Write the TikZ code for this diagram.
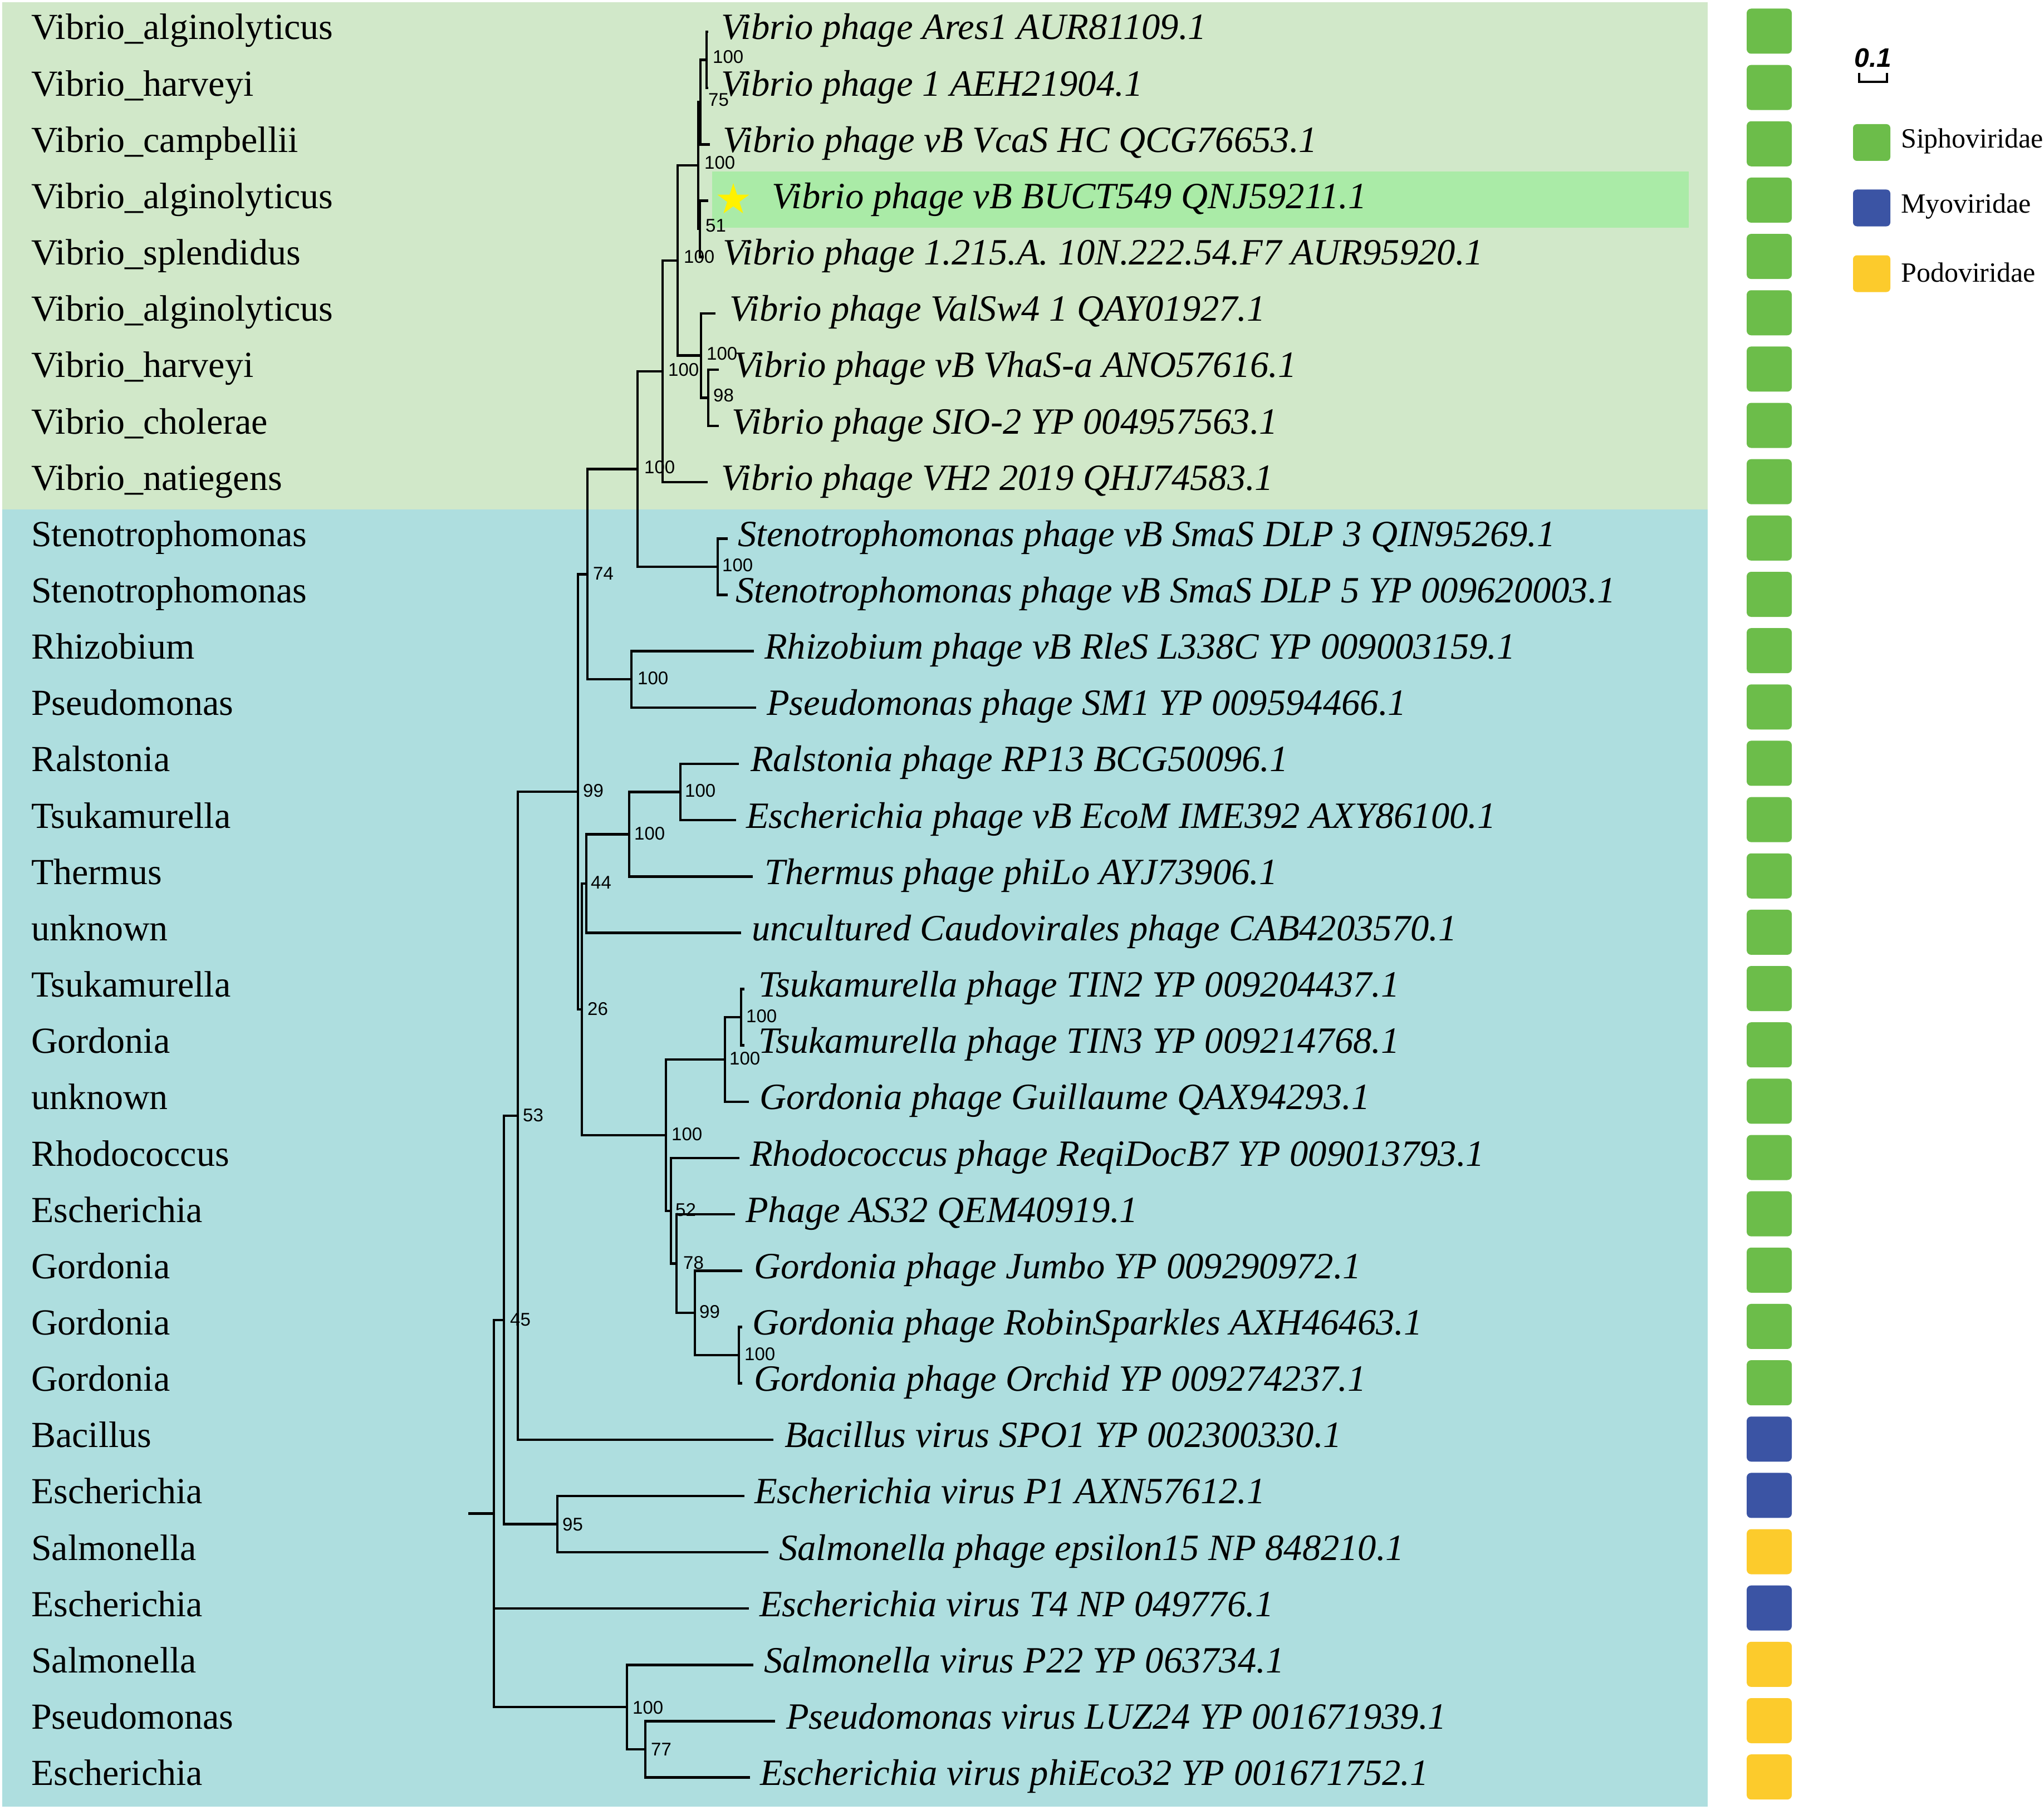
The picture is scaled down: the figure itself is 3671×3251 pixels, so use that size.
\documentclass[tikz,border=0pt]{standalone}
\usepackage{fontspec}
\setmainfont{Liberation Serif}
\newfontfamily\mysansfam{Liberation Sans}
\usetikzlibrary{shapes.geometric}
\definecolor{bggreen}{HTML}{D1E8C9}
\definecolor{bgblue}{HTML}{AEDEDF}
\definecolor{hlgreen}{HTML}{AAEBA7}
\definecolor{sqgreen}{HTML}{6CBD4A}
\definecolor{sqblue}{HTML}{3B54A4}
\definecolor{sqyellow}{HTML}{FCCB2C}
\newcommand\mytipfont{\fontsize{66.6}{70}\selectfont\itshape}
\newcommand\myhostfont{\fontsize{66}{70}\selectfont}
\newcommand\mybsfont{\mysansfam\fontsize{33}{35}\selectfont}
\newcommand\mylegfont{\fontsize{50}{54}\selectfont}
\begin{document}
\begin{tikzpicture}[x=1pt,y=-1pt,
  br/.style={line width=4.5pt, line cap=rect, line join=miter},
  tiplab/.style={anchor=base west, inner sep=0pt, font=\mytipfont},
  hostlab/.style={anchor=base west, inner sep=0pt, font=\myhostfont},
  bs/.style={anchor=west, inner sep=0pt, font=\mybsfont},
  sq/.style={rounded corners=8pt, minimum width=81pt, minimum height=81pt, inner sep=0pt},
  legsq/.style={rounded corners=7pt, minimum width=67pt, minimum height=66pt, inner sep=0pt},
  leglab/.style={anchor=west, inner sep=0pt, font=\mylegfont}]
\useasboundingbox (0,0) rectangle (3671,3251);
% backgrounds
\fill[bggreen] (4,4) rectangle (3067,915);
\fill[bgblue] (4,915) rectangle (3067,3245);
\fill[hlgreen] (1279,308) rectangle (3033,409);
\node[star, star points=5, star point ratio=2.6, fill=yellow, minimum size=60pt, inner sep=0pt] (star) at (1317,359) {};

% tip ends
\coordinate (t1) at (1270,57);
\coordinate (t2) at (1270,158.15);
\coordinate (t3) at (1273,259.3);
\coordinate (t4) at (1270,360.45);
\coordinate (t5) at (1262,461.6);
\coordinate (t6) at (1283,562.75);
\coordinate (t7) at (1289,663.9);
\coordinate (t8) at (1289,765.05);
\coordinate (t9) at (1269,866.2);
\coordinate (t10) at (1305,967.35);
\coordinate (t11) at (1305,1068.5);
\coordinate (t12) at (1352,1169.65);
\coordinate (t13) at (1356,1270.8);
\coordinate (t14) at (1325,1371.95);
\coordinate (t15) at (1320,1473.1);
\coordinate (t16) at (1350,1574.25);
\coordinate (t17) at (1329,1675.4);
\coordinate (t18) at (1335,1776.55);
\coordinate (t19) at (1335,1877.7);
\coordinate (t20) at (1343,1978.85);
\coordinate (t21) at (1326,2080);
\coordinate (t22) at (1318,2181.15);
\coordinate (t23) at (1331,2282.3);
\coordinate (t24) at (1331,2383.45);
\coordinate (t25) at (1331,2484.6);
\coordinate (t26) at (1387,2585.75);
\coordinate (t27) at (1335,2686.9);
\coordinate (t28) at (1378,2788.05);
\coordinate (t29) at (1343,2889.2);
\coordinate (t30) at (1351,2990.35);
\coordinate (t31) at (1390,3091.5);
\coordinate (t32) at (1345,3192.65);

% internal nodes
\coordinate (n12) at (1269,107.6);
\coordinate (n75) at (1258,183.4);
\coordinate (n51) at (1257,411.0);
\coordinate (nA) at (1254,297.2);
\coordinate (n98) at (1272,714.5);
\coordinate (nB) at (1259,638.6);
\coordinate (nC) at (1217,467.9);
\coordinate (nD) at (1190,667.1);
\coordinate (nS) at (1289,1017.9);
\coordinate (nE) at (1145,842.5);
\coordinate (nRP) at (1134,1220.2);
\coordinate (n74) at (1055,1031.4);
\coordinate (nRE) at (1222,1422.5);
\coordinate (nRT) at (1130,1498.4);
\coordinate (n44) at (1053,1586.9);
\coordinate (nT23) at (1331,1827.1);
\coordinate (nTG) at (1302,1903.0);
\coordinate (nRO) at (1327,2434.0);
\coordinate (n99b) at (1248,2358.2);
\coordinate (n78) at (1215,2269.7);
\coordinate (n52) at (1205,2174.9);
\coordinate (nG) at (1196,2039.0);
\coordinate (n26) at (1045,1813.0);
\coordinate (n99) at (1038,1422.2);
\coordinate (n53) at (930,2004.0);
\coordinate (n95) at (1001,2737.5);
\coordinate (n45) at (905,2370.8);
\coordinate (n77) at (1159,3142.1);
\coordinate (nP) at (1126,3066.2);
\coordinate (root) at (887,2718.5);
\coordinate (r0) at (843,2718.5);

% branches
\draw[br] (r0) -- (root);
\draw[br] (root) |- (n45);
\draw[br] (root) |- (t29);
\draw[br] (root) |- (nP);
\draw[br] (n45) |- (n53);
\draw[br] (n45) |- (n95);
\draw[br] (n95) |- (t27);
\draw[br] (n95) |- (t28);
\draw[br] (nP) |- (t30);
\draw[br] (nP) |- (n77);
\draw[br] (n77) |- (t31);
\draw[br] (n77) |- (t32);
\draw[br] (n53) |- (n99);
\draw[br] (n53) |- (t26);
\draw[br] (n99) |- (n74);
\draw[br] (n99) |- (n26);
\draw[br] (n74) |- (nE);
\draw[br] (n74) |- (nRP);
\draw[br] (nRP) |- (t12);
\draw[br] (nRP) |- (t13);
\draw[br] (nE) |- (nD);
\draw[br] (nE) |- (nS);
\draw[br] (nS) |- (t10);
\draw[br] (nS) |- (t11);
\draw[br] (nD) |- (nC);
\draw[br] (nD) |- (t9);
\draw[br] (nC) |- (nA);
\draw[br] (nC) |- (nB);
\draw[br] (nA) |- (n75);
\draw[br] (nA) |- (n51);
\draw[br] (n75) |- (n12);
\draw[br] (n75) |- (t3);
\draw[br] (n12) |- (t1);
\draw[br] (n12) |- (t2);
\draw[br] (n51) |- (t4);
\draw[br] (n51) |- (t5);
\draw[br] (nB) |- (t6);
\draw[br] (nB) |- (n98);
\draw[br] (n98) |- (t7);
\draw[br] (n98) |- (t8);
\draw[br] (n26) |- (n44);
\draw[br] (n26) |- (nG);
\draw[br] (n44) |- (nRT);
\draw[br] (n44) |- (t17);
\draw[br] (nRT) |- (nRE);
\draw[br] (nRT) |- (t16);
\draw[br] (nRE) |- (t14);
\draw[br] (nRE) |- (t15);
\draw[br] (nG) |- (nTG);
\draw[br] (nG) |- (n52);
\draw[br] (nTG) |- (nT23);
\draw[br] (nTG) |- (t20);
\draw[br] (nT23) |- (t18);
\draw[br] (nT23) |- (t19);
\draw[br] (n52) |- (t21);
\draw[br] (n52) |- (n78);
\draw[br] (n78) |- (t22);
\draw[br] (n78) |- (n99b);
\draw[br] (n99b) |- (t23);
\draw[br] (n99b) |- (nRO);
\draw[br] (nRO) |- (t24);
\draw[br] (nRO) |- (t25);

% bootstrap values
\node[bs] (b12) at (1280,102) {100};
\node[bs] (b75) at (1272,179) {75};
\node[bs] (bA) at (1265,292) {100};
\node[bs] (b51) at (1267,405) {51};
\node[bs] (bC) at (1228,461) {100};
\node[bs] (bB) at (1269,635) {100};
\node[bs] (b98) at (1281,710) {98};
\node[bs] (bD) at (1200,664) {100};
\node[bs] (bE) at (1157,839) {100};
\node[bs] (bS) at (1297,1015) {100};
\node[bs] (b74) at (1065,1030) {74};
\node[bs] (bRP) at (1145,1218) {100};
\node[bs] (b99) at (1047,1420) {99};
\node[bs] (bRE) at (1230,1420) {100};
\node[bs] (bRT) at (1139,1497) {100};
\node[bs] (b44) at (1061,1585) {44};
\node[bs] (b26) at (1055,1812) {26};
\node[bs] (bT23) at (1340,1825) {100};
\node[bs] (bTG) at (1310,1901) {100};
\node[bs] (bG) at (1206,2037) {100};
\node[bs] (b52) at (1213,2173) {52};
\node[bs] (b78) at (1227,2268) {78};
\node[bs] (b99b) at (1256,2356) {99};
\node[bs] (bRO) at (1337,2432) {100};
\node[bs] (b53) at (939,2003) {53};
\node[bs] (b45) at (916,2370) {45};
\node[bs] (b95) at (1010,2738) {95};
\node[bs] (bP) at (1136,3067) {100};
\node[bs] (b77) at (1169,3142) {77};

% tip labels
\foreach \i/\x/\t in {
 1/1295/Vibrio phage Ares1 AUR81109.1,
 2/1295/Vibrio phage 1 AEH21904.1,
 3/1298/Vibrio phage vB VcaS HC QCG76653.1,
 4/1386/Vibrio phage vB BUCT549 QNJ59211.1,
 5/1298/Vibrio phage 1.215.A. 10N.222.54.F7 AUR95920.1,
 6/1310/Vibrio phage ValSw4 1 QAY01927.1,
 7/1318/Vibrio phage vB VhaS-a ANO57616.1,
 8/1314/Vibrio phage SIO-2 YP 004957563.1,
 9/1295/Vibrio phage VH2 2019 QHJ74583.1,
 10/1325/Stenotrophomonas phage vB SmaS DLP 3 QIN95269.1,
 11/1321/Stenotrophomonas phage vB SmaS DLP 5 YP 009620003.1,
 12/1373/Rhizobium phage vB RleS L338C YP 009003159.1,
 13/1377/Pseudomonas phage SM1 YP 009594466.1,
 14/1348/Ralstonia phage RP13 BCG50096.1,
 15/1340/Escherichia phage vB EcoM IME392 AXY86100.1,
 16/1373/Thermus phage phiLo AYJ73906.1,
 17/1350/uncultured Caudovirales phage CAB4203570.1,
 18/1362/Tsukamurella phage TIN2 YP 009204437.1,
 19/1362/Tsukamurella phage TIN3 YP 009214768.1,
 20/1364/Gordonia phage Guillaume QAX94293.1,
 21/1347/Rhodococcus phage ReqiDocB7 YP 009013793.1,
 22/1339/Phage AS32 QEM40919.1,
 23/1354/Gordonia phage Jumbo YP 009290972.1,
 24/1351/Gordonia phage RobinSparkles AXH46463.1,
 25/1354/Gordonia phage Orchid YP 009274237.1,
 26/1409/Bacillus virus SPO1 YP 002300330.1,
 27/1355/Escherichia virus P1 AXN57612.1,
 28/1399/Salmonella phage epsilon15 NP 848210.1,
 29/1364/Escherichia virus T4 NP 049776.1,
 30/1372/Salmonella virus P22 YP 063734.1,
 31/1412/Pseudomonas virus LUZ24 YP 001671939.1,
 32/1365/Escherichia virus phiEco32 YP 001671752.1}
 \node[tiplab] (l\i) at (\x,{71+(\i-1)*101.15}) {\t};

% host labels
\foreach \i/\t in {
 1/Vibrio\_alginolyticus, 2/Vibrio\_harveyi, 3/Vibrio\_campbellii,
 4/Vibrio\_alginolyticus, 5/Vibrio\_splendidus, 6/Vibrio\_alginolyticus,
 7/Vibrio\_harveyi, 8/Vibrio\_cholerae, 9/Vibrio\_natiegens,
 10/Stenotrophomonas, 11/Stenotrophomonas, 12/Rhizobium, 13/Pseudomonas,
 14/Ralstonia, 15/Tsukamurella, 16/Thermus, 17/unknown, 18/Tsukamurella,
 19/Gordonia, 20/unknown, 21/Rhodococcus, 22/Escherichia, 23/Gordonia,
 24/Gordonia, 25/Gordonia, 26/Bacillus, 27/Escherichia, 28/Salmonella,
 29/Escherichia, 30/Salmonella, 31/Pseudomonas, 32/Escherichia}
 \node[hostlab] (h\i) at (56,{71+(\i-1)*101.15}) {\t};

% family squares
\foreach \i/\c in {1/sqgreen,2/sqgreen,3/sqgreen,4/sqgreen,5/sqgreen,6/sqgreen,7/sqgreen,8/sqgreen,
 9/sqgreen,10/sqgreen,11/sqgreen,12/sqgreen,13/sqgreen,14/sqgreen,15/sqgreen,16/sqgreen,17/sqgreen,
 18/sqgreen,19/sqgreen,20/sqgreen,21/sqgreen,22/sqgreen,23/sqgreen,24/sqgreen,25/sqgreen,
 26/sqblue,27/sqblue,28/sqyellow,29/sqblue,30/sqyellow,31/sqyellow,32/sqyellow}
 \node[sq, fill=\c] (c\i) at (3177.5,{56+(\i-1)*101.15}) {};

% scale bar
\node[anchor=south, inner sep=0pt, font=\mysansfam\bfseries\itshape\fontsize{48}{50}\selectfont] (scl) at (3364,121) {0.1};
\coordinate (sb1) at (3339,131);
\coordinate (sb2) at (3389,131);
\draw[line width=4pt] (sb1) |- (3364,147) -| (sb2);

% legend
\node[legsq, fill=sqgreen] (k1) at (3361.5,256) {};
\node[legsq, fill=sqblue] (k2) at (3361.5,373.5) {};
\node[legsq, fill=sqyellow] (k3) at (3361.5,491.5) {};
\node[leglab] (k1t) at (3414,253) {Siphoviridae};
\node[leglab] (k2t) at (3414,371) {Myoviridae};
\node[leglab] (k3t) at (3414,489) {Podoviridae};
\end{tikzpicture}
\end{document}
